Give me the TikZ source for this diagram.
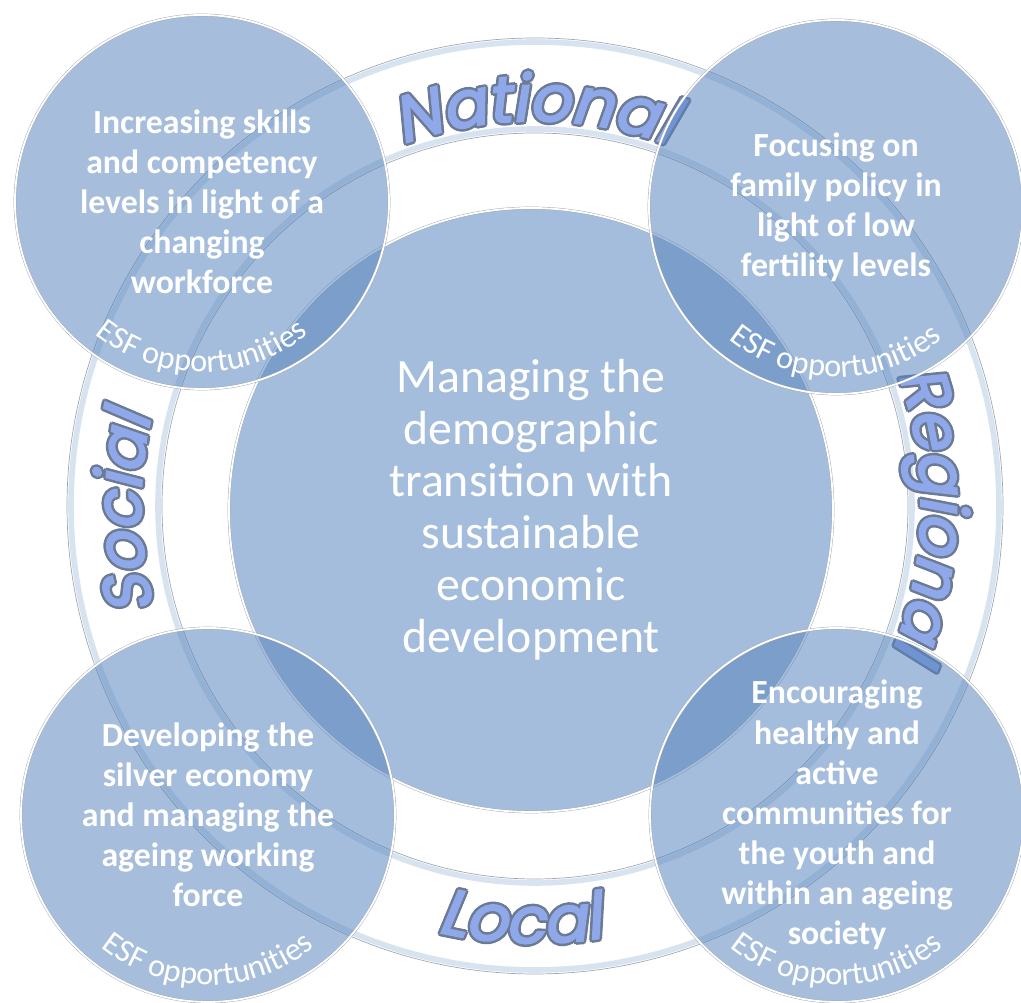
\documentclass[tikz,border=0pt]{standalone}
\usepackage{fontspec}
\setmainfont{Carlito}
\newfontfamily\bandfont{Poppins}[FakeSlant=0.2,FakeBold=3]
\usetikzlibrary{decorations.text}

\definecolor{tilefill}{RGB}{86,131,189}
\definecolor{rimgray}{RGB}{160,168,180}
\definecolor{rimblue}{RGB}{216,227,240}
\definecolor{bandfill}{RGB}{143,168,234}
\definecolor{bandline}{RGB}{108,122,148}

\tikzset{
  tile/.style={circle, inner sep=0pt, fill=tilefill, fill opacity=0.53, text opacity=1,
    text=white, draw=rimgray, double=white, double distance=1.3pt, line width=0.3pt, align=center},
  corner/.style={tile, minimum size=93.5mm, font=\fontsize{24}{28.5}\selectfont\bfseries},
  hub/.style={tile, minimum size=151mm, font=\fontsize{34}{37}\selectfont},
  rimline/.style={draw=rimgray, line width=0.5pt},
  rimstrip/.style={draw=rimblue, line width=4pt},
}

% label on the ring: start angle, end angle, radius, text
\newcommand\bandlabel[4]{%
  \foreach \o in {0,45,...,315}
    \path[shift={(535,497)}, shift={(\o:1.8pt)}, decorate,
      decoration={text along path, text align=center, text color=bandline,
        text={|\bandfont\fontsize{46}{46}\selectfont|#4}}]
      (#1:#3) arc[start angle=#1, end angle=#2, radius=#3];
  \path[shift={(535,497)}, decorate,
    decoration={text along path, text align=center, text color=bandfill,
      text={|\bandfont\fontsize{46}{46}\selectfont|#4}}]
    (#1:#3) arc[start angle=#1, end angle=#2, radius=#3];
}

% curved caption at the foot of a corner circle
\newcommand\esf[1]{%
  \path[decorate,
    decoration={text along path, text align=center, text color=white,
      text={|\fontsize{23}{23}\selectfont|ESF opportunities}}]
    (#1.center) ++(200:170) arc[start angle=200, end angle=340, radius=170];
}

\begin{document}
\begin{tikzpicture}[x=0.25mm, y=0.25mm]
\useasboundingbox (0,0) rectangle (1021,1003);
\coordinate (ring) at (535,497);

% ring band
\fill[white] (ring) circle[radius=468];
\draw[rimstrip] (ring) circle[radius=464];
\draw[rimstrip] (ring) circle[radius=377];
\draw[rimline] (ring) circle[radius=468];
\draw[rimline] (ring) circle[radius=373];

\bandlabel{135}{45}{385}{National}
\bandlabel{44}{-46}{386}{Regional}
\bandlabel{226}{136}{394}{Social}
\bandlabel{198}{338}{437}{Local}

% circles
\node[hub] (hub) at (531,493) {Managing the\\demographic\\transition with\\sustainable\\economic\\development};
\node[corner] (tl) at (202,801) {Increasing skills\\and competency\\levels in light of a\\changing\\workforce};
\node[corner] (tr) at (836,796) {Focusing on\\family policy in\\light of low\\fertility levels};
\node[corner] (bl) at (208,188) {Developing the\\silver economy\\and managing the\\ageing working\\force};
\node[corner] (br) at (837,188) {Encouraging\\healthy and\\active\\communities for\\the youth and\\within an ageing\\society};

\foreach \c in {tl,tr,bl,br} {\esf{\c}}
\end{tikzpicture}
\end{document}
